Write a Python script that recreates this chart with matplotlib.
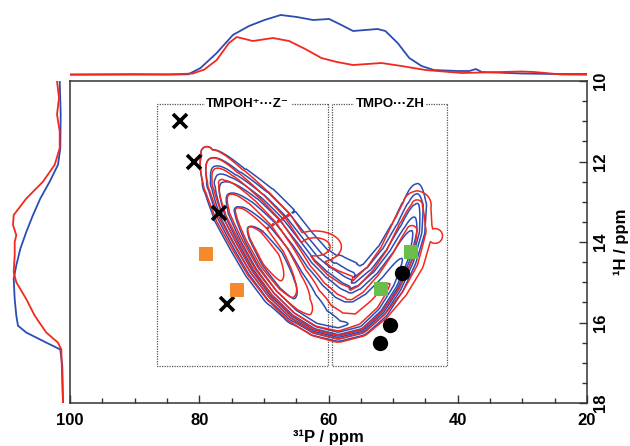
import numpy as np
import matplotlib
matplotlib.use("Agg")
import matplotlib.pyplot as plt
from matplotlib.ticker import MultipleLocator
from matplotlib.patches import Rectangle

plt.rcParams['font.family'] = ['Liberation Sans', 'DejaVu Sans']
plt.rcParams['font.weight'] = 'bold'

BLUE = '#2b4db3'
RED = '#f2281e'

# --- 1D projections ---
top_p_blue = [100, 90, 84, 81.7, 79.8, 77.3, 74.8, 72.3, 69.9, 67.4, 64.9, 62.4, 59.9, 58.0,
              56.2, 54.3, 52.4, 51.2, 49.3, 47.5, 45.6, 43.7, 40.0, 38.2, 37.2, 36.3, 30.1, 25, 20]
top_i_blue = [0.5, 0.8, 0.5, 0.7, 7, 22, 40, 49, 55, 60, 58, 55, 56, 50,
              44, 45, 46, 44, 32, 17, 9, 5, 4, 4, 6, 3, 1.5, 1, 1]
top_p_red = [100, 85, 81.0, 79.2, 77.3, 75.4, 74.2, 71.7, 68.6, 66.1, 63.6, 61.1, 58.7, 56.2,
             51.8, 48.7, 45.0, 39.4, 33.2, 30.1, 28.2, 23.9, 20]
top_i_red = [0.3, 0.5, 1.5, 5.5, 15, 32, 38, 34, 37, 34, 26, 17, 13, 10,
             12, 9, 5, 2, 3, 3.5, 3, 0.5, 0.3]

left_h_blue = [10, 10.83, 11.67, 12.08, 12.5, 12.92, 13.33, 13.75, 14.17, 14.58, 14.92, 15.42,
               15.83, 16.08, 16.25, 16.5, 16.67, 17.08, 18.0]
left_i_blue = [3.3, 2.3, 2.7, 5, 13.3, 22.7, 30, 36.7, 42.7, 46.7, 49.3, 48.3,
               46.7, 45, 36.7, 16.7, 2.7, 0.7, 0]
left_h_red = [10, 10.42, 10.83, 11.25, 11.67, 12.08, 12.5, 12.92, 13.33, 13.58, 13.83, 14.0,
              14.33, 14.75, 15.0, 15.42, 15.83, 16.25, 16.5, 16.67, 17.5, 18]
left_i_red = [6, 4, 6, 3.3, 3.3, 8.3, 20, 36.7, 49.3, 50, 46.7, 48.3,
              48.3, 49.3, 46.7, 36.7, 28.3, 16.7, 5, 1.7, 0.7, 0]

# --- 2D ridge description (centre line, height, widths in screen px) ---
ridge_p = [78.8, 76.5, 74.0, 71.5, 69.2, 66.9, 64.4, 61.6, 58.5, 55.4, 52.8, 50.5, 48.6, 47.1, 46.3, 46.2]
ridge_h = [11.78, 12.53, 13.22, 13.86, 14.46, 15.06, 15.58, 15.95, 16.1, 15.98, 15.58, 15.03, 14.41, 13.72, 13.09, 12.55]
blue_amp = [0.12, 0.38, 0.68, 0.9, 1.0, 0.9, 0.78, 0.7, 0.66, 0.64, 0.62, 0.58, 0.5, 0.38, 0.25, 0.1]
blue_wout = [10, 12, 13, 13, 13, 12, 10, 8, 7.5, 7.5, 8, 8, 8, 8, 7, 6]
blue_win = [12, 17, 21, 23, 24, 27, 32, 35, 34, 29, 23, 18, 15, 13, 11, 9]
red_amp = [0.12, 0.42, 0.72, 0.92, 1.0, 0.82, 0.62, 0.5, 0.45, 0.42, 0.42, 0.4, 0.36, 0.3, 0.2, 0.05]
red_wout = [10, 11, 12, 12, 12, 11, 10, 9, 9, 9, 10, 12, 14, 14, 12, 10]
red_win = [11, 15, 18, 20, 20, 22, 26, 30, 30, 25, 20, 17, 15, 14, 12, 10]
# extra lobes: P, H, height, widths (px)
red_blob_p = [62.1, 43.5]
red_blob_h = [14.12, 13.85]
red_blob_a = [0.24, 0.14]
red_blob_wx = [20, 9]
red_blob_wy = [12, 9]
blue_levels = [0.1, 0.17, 0.24, 0.31, 0.38, 0.5, 0.65, 0.82]
red_levels = [0.1, 0.18, 0.28, 0.4, 0.55, 0.7, 0.85]

# --- reference markers ---
cross_p = [83.0, 80.8, 76.9, 75.7]
cross_h = [11.0, 12.0, 13.29, 15.55]
orange_p = [79.0, 74.2]
orange_h = [14.31, 15.2]
green_p = [47.2, 51.9]
green_h = [14.26, 15.16]
circle_p = [48.7, 50.5, 52.0]
circle_h = [14.76, 16.07, 16.52]

W, H = 630, 446
fig = plt.figure(figsize=(W / 100, H / 100), dpi=100)

ax = fig.add_axes([70 / W, 1 - 403 / H, 517 / W, 322 / H])
axt = fig.add_axes([70 / W, 1 - 78 / H, 517 / W, 66 / H])
axl = fig.add_axes([3 / W, 1 - 403 / H, 65 / W, 322 / H])

SX = 517 / 80.0   # px per 31P ppm
SY = 322 / 8.0    # px per 1H ppm


def ridge_field(gp, gh, rp, rh, amp, wout, win):
    gx = (100 - gp) * SX
    gy = (gh - 10) * SY
    px = (100 - np.asarray(rp)) * SX
    py = (np.asarray(rh) - 10) * SY
    field = np.zeros_like(gx)
    for i in range(len(px) - 1):
        dx, dy = px[i + 1] - px[i], py[i + 1] - py[i]
        t_raw = ((gx - px[i]) * dx + (gy - py[i]) * dy) / (dx * dx + dy * dy)
        t = np.clip(t_raw, 0, 1)
        d2 = (gx - px[i] - t * dx) ** 2 + (gy - py[i] - t * dy) ** 2
        cross = dx * (gy - py[i]) - dy * (gx - px[i])
        a = amp[i] * (1 - t) + amp[i + 1] * t
        wo = wout[i] * (1 - t) + wout[i + 1] * t
        wi = win[i] * (1 - t) + win[i + 1] * t
        w = np.where(cross > 0, wo, wi)
        # past the segment ends use the narrow side, neighbours fill in
        w = np.where((t_raw < 0) | (t_raw > 1), np.minimum(wo, wi), w)
        field = np.maximum(field, a * np.exp(-d2 / (2 * w * w)))
    return field


def add_blobs(field, gp, gh, bp, bh, ba, bwx, bwy):
    for p, h, a, wx, wy in zip(bp, bh, ba, bwx, bwy):
        e = ((gp - p) * SX / wx) ** 2 + ((gh - h) * SY / wy) ** 2
        field = np.maximum(field, a * np.exp(-e / 2))
    return field


gp, gh = np.meshgrid(np.linspace(100, 20, 500), np.linspace(10, 18, 400))
fb = ridge_field(gp, gh, ridge_p, ridge_h, blue_amp, blue_wout, blue_win)
fr = ridge_field(gp, gh, ridge_p, ridge_h, red_amp, red_wout, red_win)
fr = add_blobs(fr, gp, gh, red_blob_p, red_blob_h, red_blob_a, red_blob_wx, red_blob_wy)

ax.contour(gp, gh, fb, levels=blue_levels, colors=BLUE, linewidths=1.1)
ax.contour(gp, gh, fr, levels=red_levels, colors=RED, linewidths=1.1)

# dotted region boxes
box_style = dict(fill=False, linestyle=(0, (1, 1)), lw=0.9, ec='#555555')
ax.add_patch(Rectangle((60.1, 10.575), 86.5 - 60.1, 17.075 - 10.575, **box_style))
ax.add_patch(Rectangle((41.7, 10.575), 59.5 - 41.7, 17.075 - 10.575, **box_style))
lab = dict(ha='center', va='center', fontsize=9.5, fontweight='bold',
           bbox=dict(fc='white', ec='none', pad=1))
ax.text(72.5, 10.575, 'TMPOH⁺···Z⁻', **lab)
ax.text(50.5, 10.575, 'TMPO···ZH', **lab)

ax.plot(cross_p, cross_h, 'x', color='black', ms=9.5, mew=2.6, ls='none')
ax.plot(orange_p, orange_h, 's', color='#f58a2c', ms=10, mew=0, ls='none')
ax.plot(green_p, green_h, 's', color='#6abf4b', ms=10, mew=0, ls='none')
ax.plot(circle_p, circle_h, 'o', color='black', ms=11, mew=0, ls='none')

ax.set_xlim(100, 20)
ax.set_ylim(18, 10)
ax.xaxis.set_major_locator(MultipleLocator(20))
ax.xaxis.set_minor_locator(MultipleLocator(5))
ax.yaxis.set_major_locator(MultipleLocator(2))
ax.yaxis.set_minor_locator(MultipleLocator(0.5))
ax.yaxis.tick_right()
ax.yaxis.set_label_position('right')
ax.tick_params(which='both', direction='in', color='#333333', width=1.0)
ax.tick_params(which='major', length=6)
ax.tick_params(which='minor', length=3.5)
ax.tick_params(axis='x', labelsize=12, pad=7)
ax.tick_params(axis='y', labelsize=12, pad=4, labelrotation=90)
for t in ax.get_yticklabels():
    t.set_va('center')
for s in ax.spines.values():
    s.set_color('#333333')
    s.set_linewidth(1.1)
ax.set_xlabel('³¹P / ppm', fontsize=12, fontweight='bold', labelpad=1)
ax.set_ylabel('¹H / ppm', fontsize=12, fontweight='bold', labelpad=4)

axt.plot(top_p_blue, top_i_blue, color=BLUE, lw=1.3)
axt.plot(top_p_red, top_i_red, color=RED, lw=1.3)
axt.set_xlim(100, 20)
axt.set_ylim(-3, 63)
axt.axis('off')

axl.plot(left_i_blue, left_h_blue, color=BLUE, lw=1.3)
axl.plot(left_i_red, left_h_red, color=RED, lw=1.3)
axl.set_xlim(60, -5)
axl.set_ylim(18, 10)
axl.axis('off')

fig.savefig('out.png', dpi=100)
